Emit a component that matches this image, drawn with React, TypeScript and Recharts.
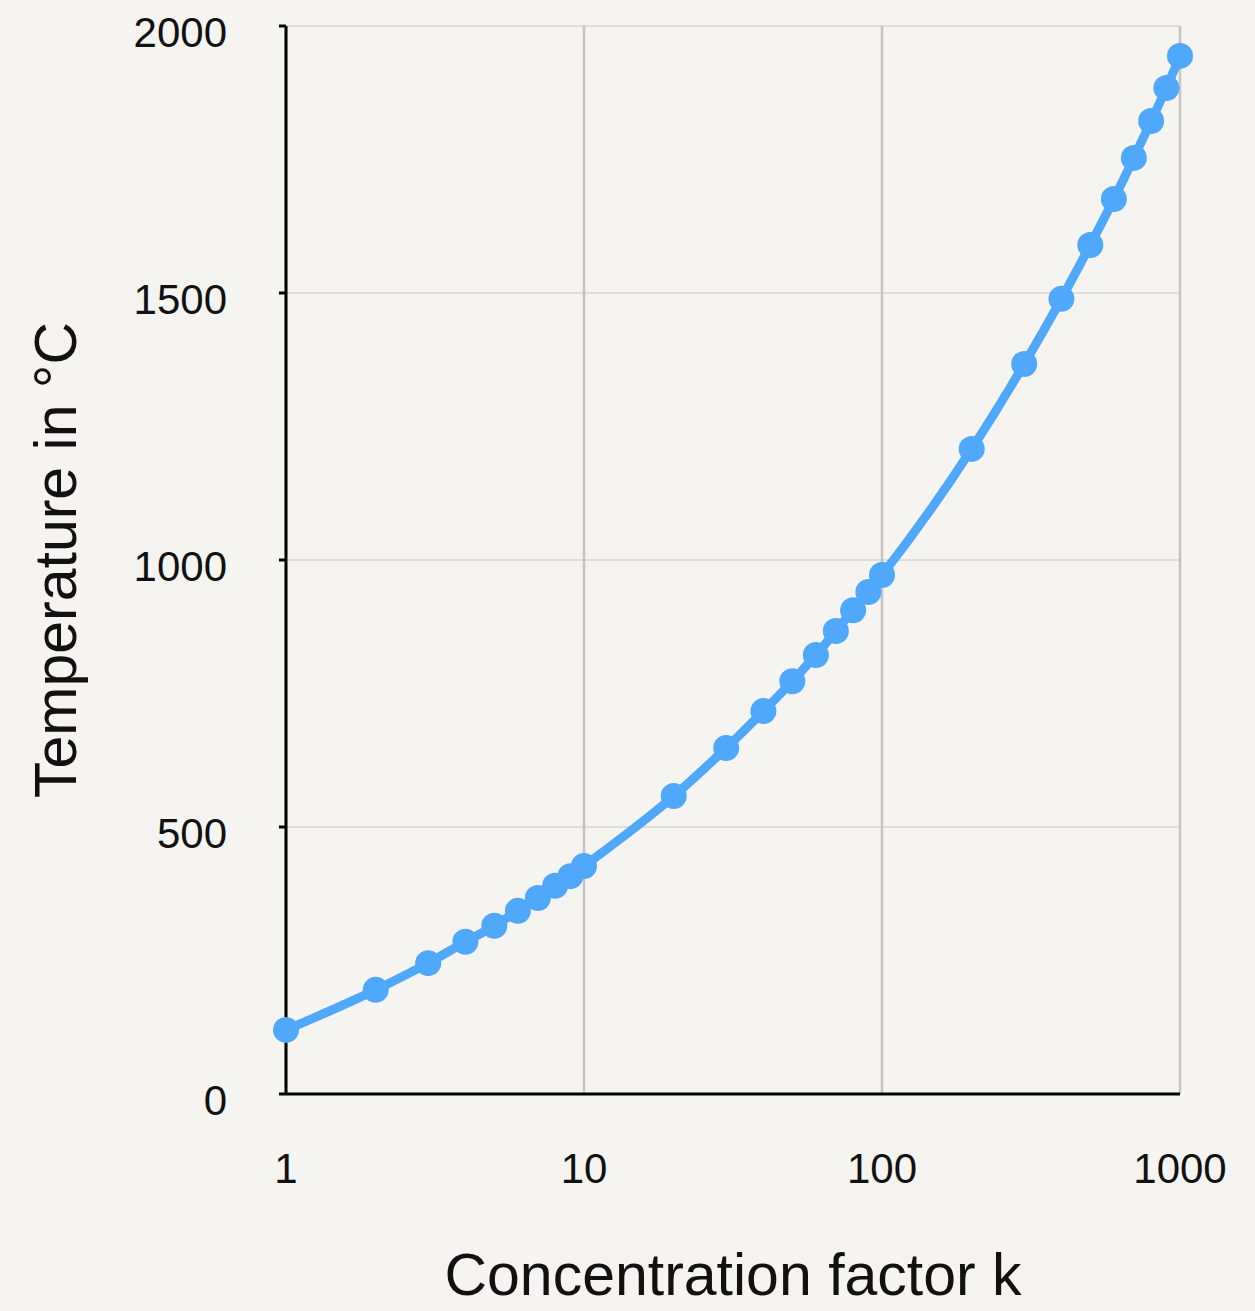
import { CartesianGrid, Label, Line, LineChart, XAxis, YAxis } from "recharts";

// Concentration factor k (log axis) and temperature in °C
const factors = [
	1, 2, 3, 4, 5, 6, 7, 8, 9, 10, 20, 30, 40, 50, 60, 70, 80, 90, 100, 200, 300,
	400, 500, 600, 700, 800, 900, 1000,
];
const temperatures = [
	120, 195, 245, 285, 315, 343, 367, 390, 408, 427, 558, 648, 717, 773, 822,
	867, 906, 940, 972, 1208, 1367, 1489, 1590, 1676, 1753, 1822, 1884, 1944,
];
const xTicks = [1, 10, 100, 1000];
const yTicks = [0, 500, 1000, 1500, 2000];

const data = factors.map((k, i) => ({ k, t: temperatures[i] }));

const FONT = "'Liberation Sans', Arial, sans-serif";
const BLUE = "#4fa8fa";

const YTick = (props: any) => (
	<text
		x={props.x}
		y={props.y + 21}
		textAnchor="end"
		fontFamily={FONT}
		fontSize={42}
		fill="#111"
	>
		{props.payload.value}
	</text>
);

const XTick = (props: any) => (
	<text
		x={props.x}
		y={props.y + 89}
		textAnchor="middle"
		fontFamily={FONT}
		fontSize={42}
		fill="#111"
	>
		{props.payload.value}
	</text>
);

const XLabel = ({ viewBox }: any) => (
	<text
		x={viewBox.x + viewBox.width / 2}
		y={viewBox.y + 201}
		textAnchor="middle"
		fontFamily={FONT}
		fontSize={59}
		fill="#111"
	>
		Concentration factor k
	</text>
);

const YLabel = ({ viewBox }: any) => {
	const cx = 76;
	const cy = viewBox.y + viewBox.height / 2;
	return (
		<text
			x={cx}
			y={cy}
			transform={`rotate(-90, ${cx}, ${cy})`}
			textAnchor="middle"
			fontFamily={FONT}
			fontSize={59}
			fill="#111"
		>
			Temperature in °C
		</text>
	);
};

export default function App() {
	return (
		<div
			style={{
				position: "absolute",
				left: 0,
				top: 0,
				width: 1255,
				height: 1311,
				background: "#f5f4f1",
			}}
		>
			<LineChart
				width={1255}
				height={1311}
				data={data}
				margin={{ top: 26, right: 75, left: 0, bottom: 0 }}
			>
				<CartesianGrid vertical={false} stroke="#d6d6d4" strokeWidth={1.5} />
				<CartesianGrid horizontal={false} stroke="#c4c4c2" strokeWidth={2.5} />
				<XAxis
					dataKey="k"
					type="number"
					scale="log"
					domain={[1, 1000]}
					ticks={xTicks}
					height={217}
					tickSize={0}
					tickMargin={0}
					tickLine={false}
					axisLine={{ stroke: "#000", strokeWidth: 3 }}
					tick={<XTick />}
					interval={0}
				>
					<Label content={<XLabel />} />
				</XAxis>
				<YAxis
					type="number"
					domain={[0, 2000]}
					ticks={yTicks}
					width={286}
					tickSize={7}
					tickMargin={52}
					tickLine={{ stroke: "#000", strokeWidth: 3 }}
					axisLine={{ stroke: "#000", strokeWidth: 3 }}
					tick={<YTick />}
					interval={0}
				>
					<Label content={<YLabel />} />
				</YAxis>
				<Line
					type="monotone"
					dataKey="t"
					stroke={BLUE}
					strokeWidth={9}
					dot={{ r: 13, fill: BLUE, stroke: "none" }}
					activeDot={false}
					isAnimationActive={false}
				/>
			</LineChart>
		</div>
	);
}
